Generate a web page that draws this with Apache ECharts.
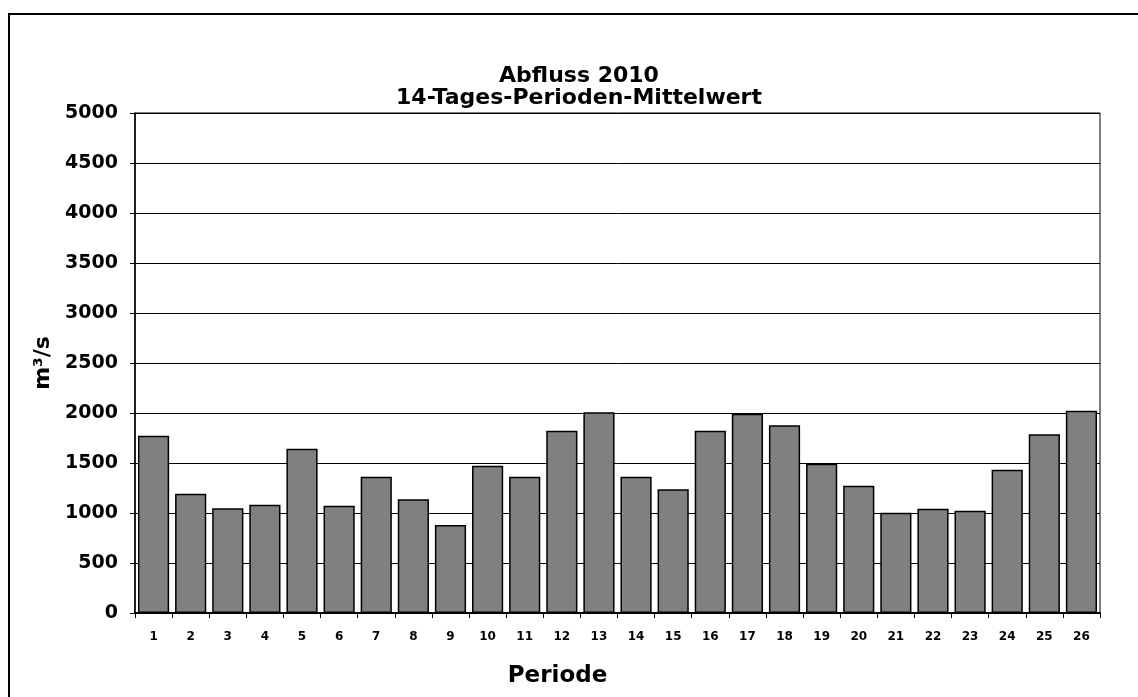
<!DOCTYPE html>
<html>
<head>
<meta charset="utf-8">
<script src="https://cdn.jsdelivr.net/npm/echarts@6/dist/echarts.min.js"></script>
<style>
  html, body { margin: 0; padding: 0; background: #fff; }
  #chart { width: 1138px; height: 697px; }
</style>
</head>
<body>
<div id="chart"></div>
<script>
// Perioden 1..26
const periods = ['1', '2', '3', '4', '5', '6', '7', '8', '9', '10', '11', '12', '13',
  '14', '15', '16', '17', '18', '19', '20', '21', '22', '23', '24', '25', '26'];
// mittlerer Abfluss in m³/s
const discharge = [1773, 1193, 1047, 1083, 1643, 1073, 1363, 1137, 880, 1473, 1363, 1823, 2007,
  1363, 1237, 1823, 1993, 1877, 1493, 1273, 1003, 1043, 1023, 1433, 1787, 2023];

const titleLines = ['Abfluss 2010', '14-Tages-Perioden-Mittelwert'];
const font = 'DejaVu Sans';

const option = {
    animation: false,
    backgroundColor: '#fff',
    title: {
        text: titleLines.join('\n'),
        left: 574,
        textAlign: 'center',
        top: 60,
        textStyle: {
            fontFamily: font,
            fontWeight: 'bold',
            fontSize: 22,
            lineHeight: 22,
            color: '#000'
        }
    },
    graphic: [{
        type: 'rect',
        shape: { x: 9, y: 14, width: 1200, height: 800 },
        style: { fill: 'none', stroke: '#000', lineWidth: 2 },
        silent: true
    }],
    grid: {
        left: 135,
        right: 38,
        top: 113,
        bottom: 84,
        show: true,
        borderColor: '#000',
        borderWidth: 1,
        backgroundColor: 'transparent'
    },
    xAxis: {
        type: 'category',
        data: periods,
        name: 'Periode',
        nameLocation: 'middle',
        nameGap: 52,
        nameTextStyle: {
            fontFamily: font, fontWeight: 'bold', fontSize: 23, color: '#000',
            padding: [0, 120, 0, 0]
        },
        axisLine: { lineStyle: { color: '#000', width: 2 } },
        axisTick: { show: true, length: 5, lineStyle: { color: '#000', width: 1 } },
        axisLabel: { fontFamily: font, fontWeight: 'bold', fontSize: 12, color: '#000', margin: 18, interval: 0 },
        splitLine: { show: false }
    },
    yAxis: {
        type: 'value',
        min: 0,
        max: 5000,
        interval: 500,
        name: 'm³/s',
        nameLocation: 'middle',
        nameRotate: 90,
        nameGap: 76,
        nameTextStyle: { fontFamily: font, fontWeight: 'bold', fontSize: 22, color: '#000' },
        axisLine: { show: true, lineStyle: { color: '#000', width: 1.5 } },
        axisTick: { show: true, length: 5, lineStyle: { color: '#000', width: 1 } },
        axisLabel: {
            fontFamily: font, fontWeight: 'bold', fontSize: 19, color: '#000', margin: 17,
            formatter: v => String(v)
        },
        splitLine: { show: true, lineStyle: { color: '#000', width: 1 } }
    },
    series: [{
        type: 'bar',
        data: discharge,
        barCategoryGap: '16%',
        itemStyle: { color: '#808080', borderColor: '#000', borderWidth: 1.5 }
    }]
};

const chart = echarts.init(document.getElementById('chart'));
chart.setOption(option);
</script>
</body>
</html>
